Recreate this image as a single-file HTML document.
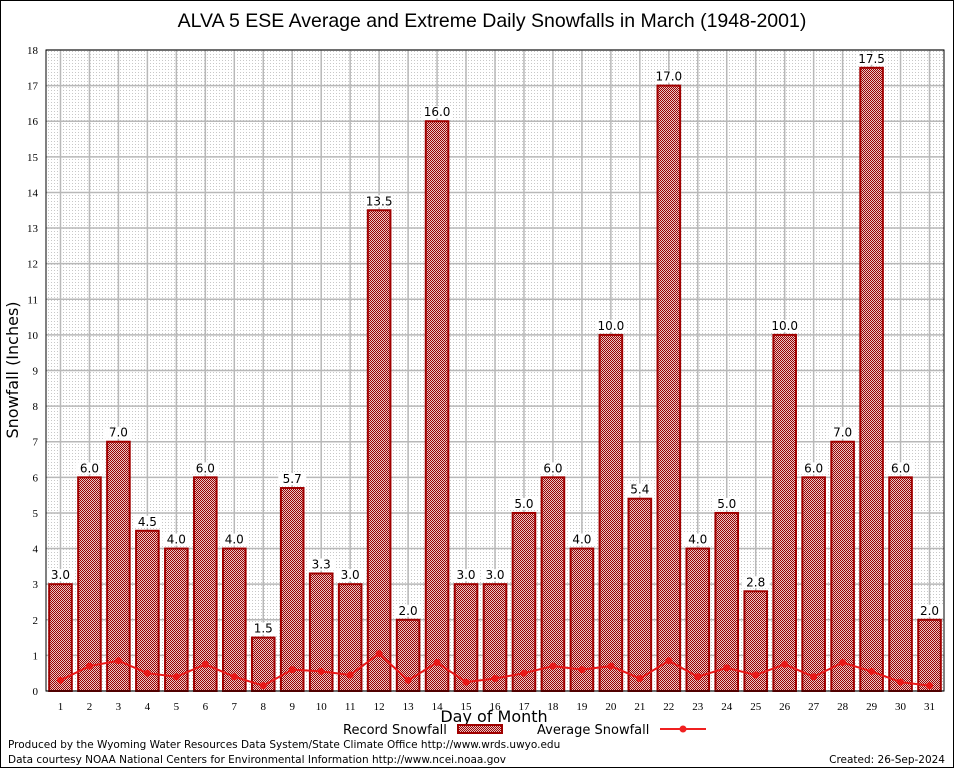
<!DOCTYPE html>
<html><head><meta charset="utf-8"><style>
body{margin:0;background:#fff;}
svg{display:block;font-family:"DejaVu Sans","Liberation Sans",sans-serif;}
</style></head><body>
<svg id="c" width="954" height="768" viewBox="0 0 954 768">
<defs>
<pattern id="chk" width="2" height="2" patternUnits="userSpaceOnUse"><rect width="2" height="2" fill="#e8c8c8"/><rect width="1" height="1" fill="#9a0000"/><rect x="1" y="1" width="1" height="1" fill="#9a0000"/></pattern>
<pattern id="dots" width="3" height="3" patternUnits="userSpaceOnUse"><rect width="3" height="3" fill="#fff"/><rect width="1" height="1" fill="#c8c8c8"/></pattern>
</defs>
<rect x="0.5" y="0.5" width="953" height="767" fill="none" stroke="#000"/>
<text x="492" y="27" font-size="19.5" text-anchor="middle" font-family="Liberation Sans, sans-serif">ALVA 5 ESE Average and Extreme Daily Snowfalls in March (1948-2001)</text>
<rect x="46" y="50" width="898" height="641" fill="url(#dots)"/>
<g id="grid"></g><g id="bars"></g><g id="line"></g><g id="axes"></g>
<text x="18" y="370" font-size="16" text-anchor="middle" transform="rotate(-90 18 370)">Snowfall (Inches)</text>
<text x="494" y="722" font-size="16" text-anchor="middle">Day of Month</text>
<g><text x="343" y="734" font-size="13">Record Snowfall</text><rect x="458" y="725" width="44" height="8" fill="url(#chk)" stroke="#a00000" stroke-width="2"/></g>
<g><text x="537" y="734" font-size="13">Average Snowfall</text><line x1="660" y1="729" x2="706" y2="729" stroke="#f02020" stroke-width="2"/><circle cx="683" cy="729" r="3.5" fill="#f02020"/></g>
<text x="8" y="748" font-size="10.5">Produced by the Wyoming Water Resources Data System/State Climate Office http://www.wrds.uwyo.edu</text>
<text x="8" y="763" font-size="10.5">Data courtesy NOAA National Centers for Environmental Information http://www.ncei.noaa.gov</text>
<text x="945" y="763" font-size="10.5" text-anchor="end">Created:  26-Sep-2024</text>
</svg>
<script>
const days=[1,2,3,4,5,6,7,8,9,10,11,12,13,14,15,16,17,18,19,20,21,22,23,24,25,26,27,28,29,30,31];
const recordValues=[3.0,6.0,7.0,4.5,4.0,6.0,4.0,1.5,5.7,3.3,3.0,13.5,2.0,16.0,3.0,3.0,5.0,6.0,4.0,10.0,5.4,17.0,4.0,5.0,2.8,10.0,6.0,7.0,17.5,6.0,2.0];
const averageValues=[0.3,0.7,0.85,0.5,0.4,0.75,0.4,0.15,0.6,0.55,0.45,1.05,0.3,0.8,0.25,0.35,0.5,0.7,0.6,0.7,0.35,0.85,0.4,0.65,0.45,0.75,0.4,0.8,0.55,0.25,0.15];
const yTicks=[0,1,2,3,4,5,6,7,8,9,10,11,12,13,14,15,16,17,18];
const NS="http://www.w3.org/2000/svg";
const X0=46,X1=944,Y0=691,Y1=50,YMAX=18;
const step=(X1-X0)/31;
function xs(d){return X0+(d-0.5)*step;}
function ys(v){return Y0-(v/YMAX)*(Y0-Y1);}
function mk(tag,attrs,parent,txt){const e=document.createElementNS(NS,tag);for(const k in attrs)e.setAttribute(k,attrs[k]);if(txt!==undefined)e.textContent=txt;document.getElementById(parent).appendChild(e);return e;}
yTicks.forEach(t=>{
 const g=mk('line',{x1:X0,x2:X1,y1:ys(t),y2:ys(t),stroke:'#b8b8b8','stroke-width':1.5},'grid');
 
 
 const l=mk('text',{x:X0-8,y:ys(t)+4,'font-size':11,'text-anchor':'end','font-family':'Liberation Serif, serif'},'axes',String(t));
 
 
});
days.forEach(d=>{
 const g=mk('line',{x1:xs(d),x2:xs(d),y1:Y1,y2:Y0,stroke:'#b8b8b8','stroke-width':1.5},'grid');
 
 
 const l=mk('text',{x:xs(d),y:Y0+19,'font-size':11,'text-anchor':'middle','font-family':'Liberation Serif, serif'},'axes',String(d));
 
 
});
const bw=step*0.78;
days.forEach((d,i)=>{
 const v=recordValues[i];
 const r=mk('rect',{x:xs(d)-bw/2,y:ys(v),width:bw,height:Y0-ys(v),fill:'url(#chk)',stroke:'#a00000','stroke-width':2},'bars');
 
 
 const bg=mk('rect',{x:xs(d)-14,y:ys(v)-15,width:28,height:12,fill:'#fff'},'bars');
 
 
 const t=mk('text',{x:xs(d),y:ys(v)-5,'font-size':12,'text-anchor':'middle'},'bars',v.toFixed(1));
 
 
});
const pts=days.map((d,i)=>xs(d)+','+ys(averageValues[i])).join(' ');
const pl=mk('polyline',{points:pts,fill:'none',stroke:'#e81818','stroke-width':2},'line');


days.forEach((d,i)=>{
 const c=mk('circle',{cx:xs(d),cy:ys(averageValues[i]),r:3.5,fill:'#e81818'},'line');
 
 
});
const ax=mk('path',{d:`M${X0} ${Y1} V${Y0} H${X1} V${Y1} Z`,fill:'none',stroke:'#000','stroke-width':1},'axes');


</script>
</body></html>
